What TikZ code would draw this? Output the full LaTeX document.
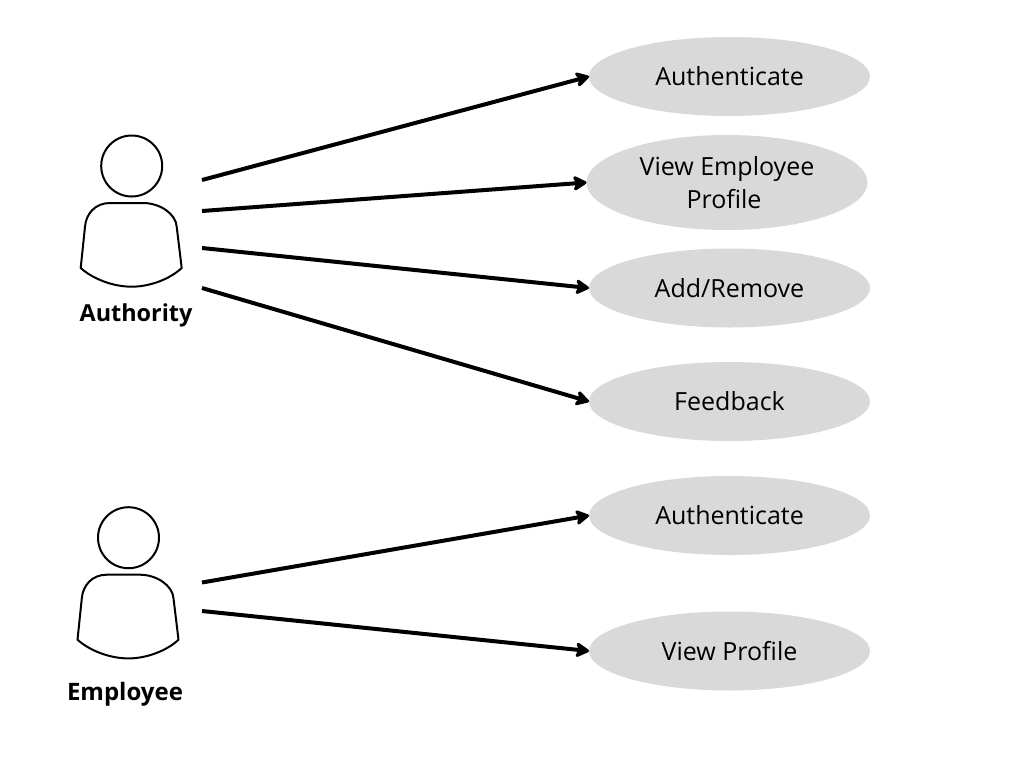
\documentclass[tikz,border=0pt]{standalone}
\usepackage{fontspec}
\setmainfont{Open Sans}
\usetikzlibrary{arrows.meta,shapes.geometric}
\definecolor{ucgray}{HTML}{D9D9D9}
\tikzset{
  usecase/.style={ellipse,fill=ucgray,draw=none,inner sep=0pt,outer sep=0pt,align=center,font=\fontsize{25}{33}\selectfont,text=black},
  link/.style={line width=4pt,draw=black,-{Stealth[length=16pt,width=18pt,inset=4pt,round]},shorten >=0pt},
  outline/.style={draw=black,line width=2pt,fill=white,line join=round},
  actorname/.style={font=\fontsize{23.4}{28}\selectfont\bfseries,inner sep=0pt},
  pics/person/.style={code={
    \node[circle,outline,minimum size=61pt,inner sep=0pt] (#1head) at (131.7,166) {};
    \draw[outline] (110,203) -- (143,203) .. controls (160,203) and (176,214) .. (176.7,226.7)
      -- (181.7,268) .. controls (170,279) and (150,286.7) .. (131.7,286.7)
      .. controls (113,286.7) and (93,279) .. (80.7,268)
      -- (85,226.7) .. controls (86,214) and (95,203) .. (110,203) -- cycle;
  }}
}
\begin{document}
\begin{tikzpicture}[x=1pt,y=-1pt]
\useasboundingbox (0,0) rectangle (1024,768);
\fill[white] (0,0) rectangle (1024,768);
\pic {person=auth};
\pic at (-3.2,371.7) {person=emp};
\node[actorname] (authlabel) at (136,315) {Authority};
\node[actorname,font=\fontsize{24}{28}\selectfont\bfseries] (emplabel) at (125,694) {Employee};
\node[usecase,minimum width=281pt,minimum height=79pt] (e1) at (729.5,76.5) {Authenticate};
\node[usecase,minimum width=281pt,minimum height=95pt] (e2) at (727,182.5) {View Employee\\Profile\kern6pt};
\node[usecase,minimum width=281pt,minimum height=79pt] (e3) at (729.5,288) {Add/Remove};
\node[usecase,minimum width=281pt,minimum height=79pt] (e4) at (729.5,401.5) {Feedback};
\node[usecase,minimum width=281pt,minimum height=79pt] (e5) at (729.5,515.5) {Authenticate};
\node[usecase,minimum width=281pt,minimum height=79pt] (e6) at (729.5,651) {View Profile};
\coordinate (s1) at (202,180);
\coordinate (s2) at (202,211);
\coordinate (s3) at (202,248);
\coordinate (s4) at (202,288);
\coordinate (s5) at (202,582.5);
\coordinate (s6) at (202,611);
\draw[link] (s1) -- (e1.west);
\draw[link] (s2) -- (e2.west);
\draw[link] (s3) -- (e3.west);
\draw[link] (s4) -- (e4.west);
\draw[link] (s5) -- (e5.west);
\draw[link] (s6) -- (e6.west);
\end{tikzpicture}
\end{document}
